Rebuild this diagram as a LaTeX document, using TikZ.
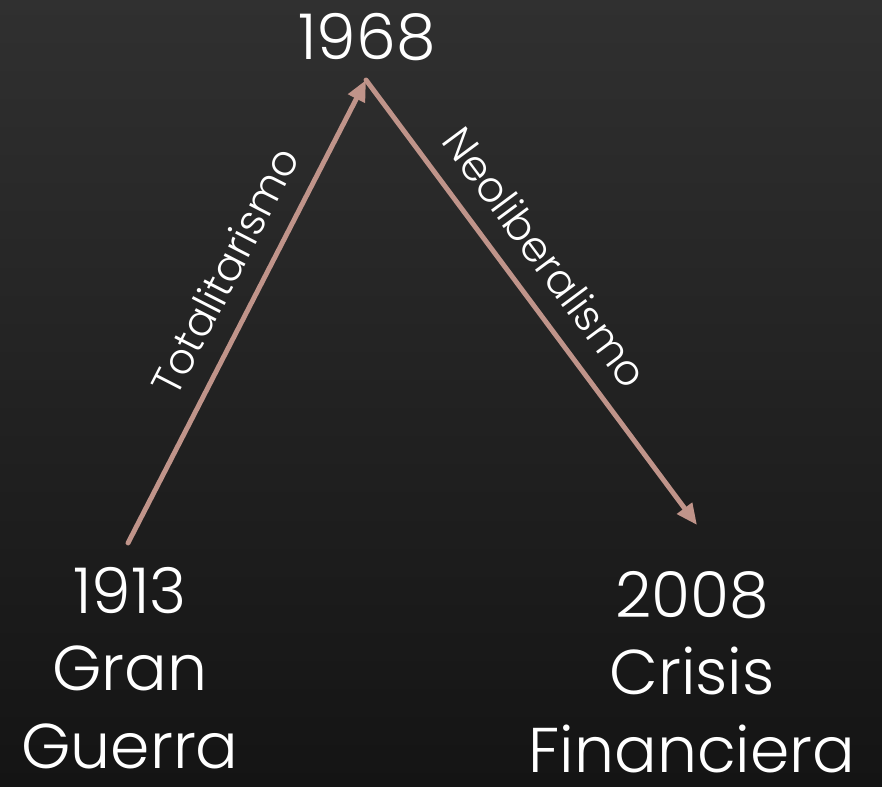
\documentclass[tikz,border=0pt]{standalone}
\usepackage{fontspec}
\setmainfont{Poppins}[UprightFont=* Light]
\usetikzlibrary{arrows.meta}
\definecolor{bgtop}{HTML}{303030}
\definecolor{bgbot}{HTML}{141414}
\definecolor{rose}{HTML}{C0948A}
\begin{document}
\begin{tikzpicture}[x=0.02cm,y=-0.02cm,
   year/.style={text=white,font=\fontsize{36}{44}\selectfont,align=center},
   tlabel/.style={sloped,above=8pt,text=white,font=\fontsize{24}{28}\selectfont},
   epoch/.style={draw=rose,line width=2.8pt,line cap=round,
     -{Triangle[length=0.42cm,width=0.36cm]}},
   ]
   \shade[shading angle=45,top color=bgtop,bottom color=bgbot] (0,0) rectangle (882,787);
   \useasboundingbox (0,0) rectangle (882,787);
   % ends of the two periods
   \coordinate (start) at (128,543);
   \coordinate (peak) at (366,80);
   \coordinate (stop) at (697,525);
   \node[year,anchor=base] (y1968) at (367,60) {1968};
   \node[year] (y1913) at (130,668) {1913\\Gran\\Guerra};
   \node[year] (y2008) at (692,672) {2008\\Crisis\\Financiera};
   \draw[epoch] (start) -- node[tlabel,pos=0.55] (tot) {Totalitarismo} (peak);
   \draw[epoch] (peak) -- node[tlabel,pos=0.45] (neo) {Neoliberalismo} (stop);
\end{tikzpicture}
\end{document}
